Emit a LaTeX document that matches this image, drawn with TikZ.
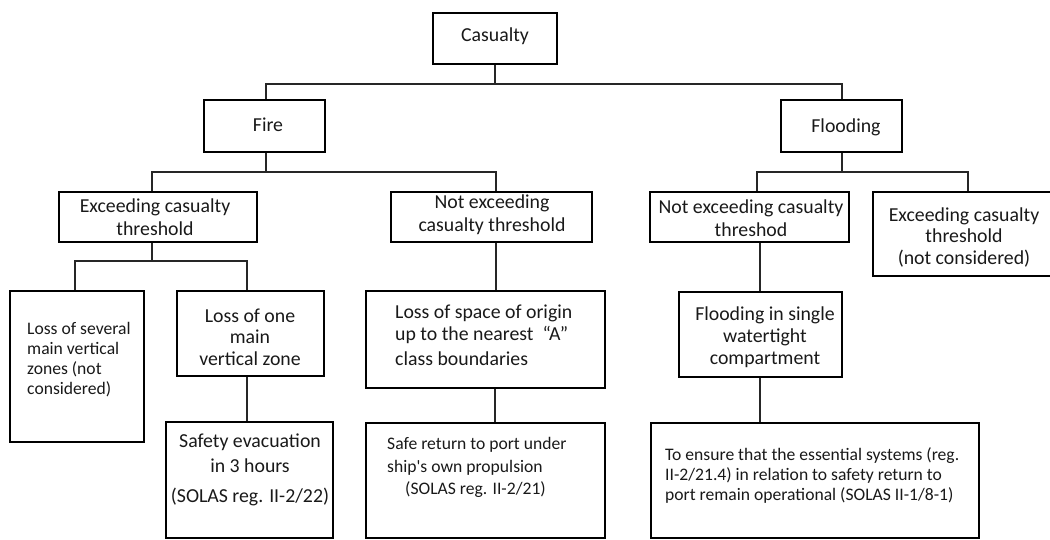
\documentclass[tikz,border=0pt]{standalone}
\usepackage{fontspec}
\setmainfont{Carlito}[Ligatures=TeXOff]
\newcommand\bigsz{\fontsize{19.8}{23}\selectfont}
\newcommand\smsz{\fontsize{17.6}{20}\selectfont}
\begin{document}
\begin{tikzpicture}[x=1pt,y=-1pt,
  box/.style={draw=black, line width=2.6pt, inner sep=0pt, fill=none},
  conn/.style={line width=1.3pt, draw=black!85},
  txt/.style={inner sep=0pt, align=center, font=\bigsz, text=black!90},
  stxt/.style={inner sep=0pt, align=left, font=\smsz, text=black!90}]
\useasboundingbox (0,0) rectangle (1050,539);
\clip (0,0) rectangle (1050,539);
% boxes
\node[box, minimum width=124pt, minimum height=51pt] (cas) at (495,38.5) {};
\node[box, minimum width=121pt, minimum height=52pt] (fire) at (264.5,126) {};
\node[box, minimum width=121pt, minimum height=52pt] (flood) at (841.5,126) {};
\node[box, minimum width=198pt, minimum height=50pt] (exf) at (158,217) {};
\node[box, minimum width=201pt, minimum height=50pt] (nef) at (491.5,217) {};
\node[box, minimum width=199pt, minimum height=50pt] (nefl) at (749.5,217) {};
\node[box, minimum width=187pt, minimum height=84pt] (exfl) at (966.5,234) {};
\node[box, minimum width=134pt, minimum height=151pt] (lsev) at (77,366.5) {};
\node[box, minimum width=147pt, minimum height=85pt] (lone) at (250.5,333.5) {};
\node[box, minimum width=239pt, minimum height=97pt] (lsp) at (485.5,339.5) {};
\node[box, minimum width=163pt, minimum height=85pt] (fsing) at (760.5,334.5) {};
\node[box, minimum width=167pt, minimum height=116pt] (safe) at (249.5,480) {};
\node[box, minimum width=239pt, minimum height=115pt] (ret) at (485.5,480.5) {};
\node[box, minimum width=328pt, minimum height=115pt] (ens) at (815,480.5) {};
% texts
\node[txt] (cas-t) at (495,36) {Casualty};
\node[txt] (fire-t) at (268,125) {Fire};
\node[txt] (flood-t) at (846,127) {Flooding};
\node[txt] (exf-t) at (155,217) {Exceeding casualty\\threshold};
\node[txt] (nef-t) at (492,215) {Not exceeding\\casualty threshold};
\node[txt] (nefl-t) at (751,218) {Not exceeding casualty\\threshod};
\node[txt, font=\fontsize{19.8}{21.5}\selectfont] (exfl-t) at (964,237) {Exceeding casualty\\threshold\\(not considered)};
\node[stxt, anchor=west] (lsev-t) at (27,360) {Loss of several\\main vertical\\zones (not\\considered)};
\node[txt, font=\fontsize{19.8}{21.5}\selectfont] (lone-t) at (250,337) {Loss of one\\main\\vertical zone};
\node[txt, font=\fontsize{19.8}{25}\selectfont] (safe-t) at (250,470) {Safety evacuation\\in 3 hours\\[5pt](SOLAS reg. II-2/22)};
\node[txt, align=left, anchor=west, font=\fontsize{19.8}{22}\selectfont] (lsp-t) at (395,335.5) {Loss of space of origin\\up to the nearest \ “A”\\[3pt]class boundaries};
\node[stxt, anchor=west, font=\fontsize{17.6}{22.5}\selectfont] (ret-t) at (387,467.5) {Safe return to port under\\ship's own propulsion\\\hspace*{18pt}(SOLAS reg. II-2/21)};
\node[stxt, anchor=west] (ens-t) at (665,475) {To ensure that the essential systems (reg.\\II-2/21.4) in relation to safety return to\\port remain operational (SOLAS II-1/8-1)};
\node[txt, font=\fontsize{19.8}{22}\selectfont] (fsing-t) at (765,337) {Flooding in single\\watertight\\compartment};
% connectors
\coordinate (j1) at (495,84);
\coordinate (j2) at (266,172);
\coordinate (j3) at (842,172);
\coordinate (j4) at (152,261);
\draw[conn] (cas.south) -- (j1);
\draw[conn] (fire.north -| 266,0) |- (j1) -| (flood.north -| 842,0);
\draw[conn] (fire.south -| 266,0) -- (j2);
\draw[conn] (exf.north -| 152,0) |- (j2) -| (nef.north -| 496,0);
\draw[conn] (flood.south -| 842,0) -- (j3);
\draw[conn] (nefl.north -| 757,0) |- (j3) -| (exfl.north -| 968,0);
\draw[conn] (exf.south -| 152,0) -- (j4);
\draw[conn] (lsev.north -| 75,0) |- (j4) -| (lone.north -| 247,0);
\draw[conn] (lone.south -| 247,0) -- (safe.north -| 247,0);
\draw[conn] (nef.south -| 496,0) -- (lsp.north -| 496,0);
\draw[conn] (lsp.south -| 495,0) -- (ret.north -| 495,0);
\draw[conn] (nefl.south -| 760,0) -- (fsing.north -| 760,0);
\draw[conn] (fsing.south -| 760,0) -- (ens.north -| 760,0);
\end{tikzpicture}
\end{document}
